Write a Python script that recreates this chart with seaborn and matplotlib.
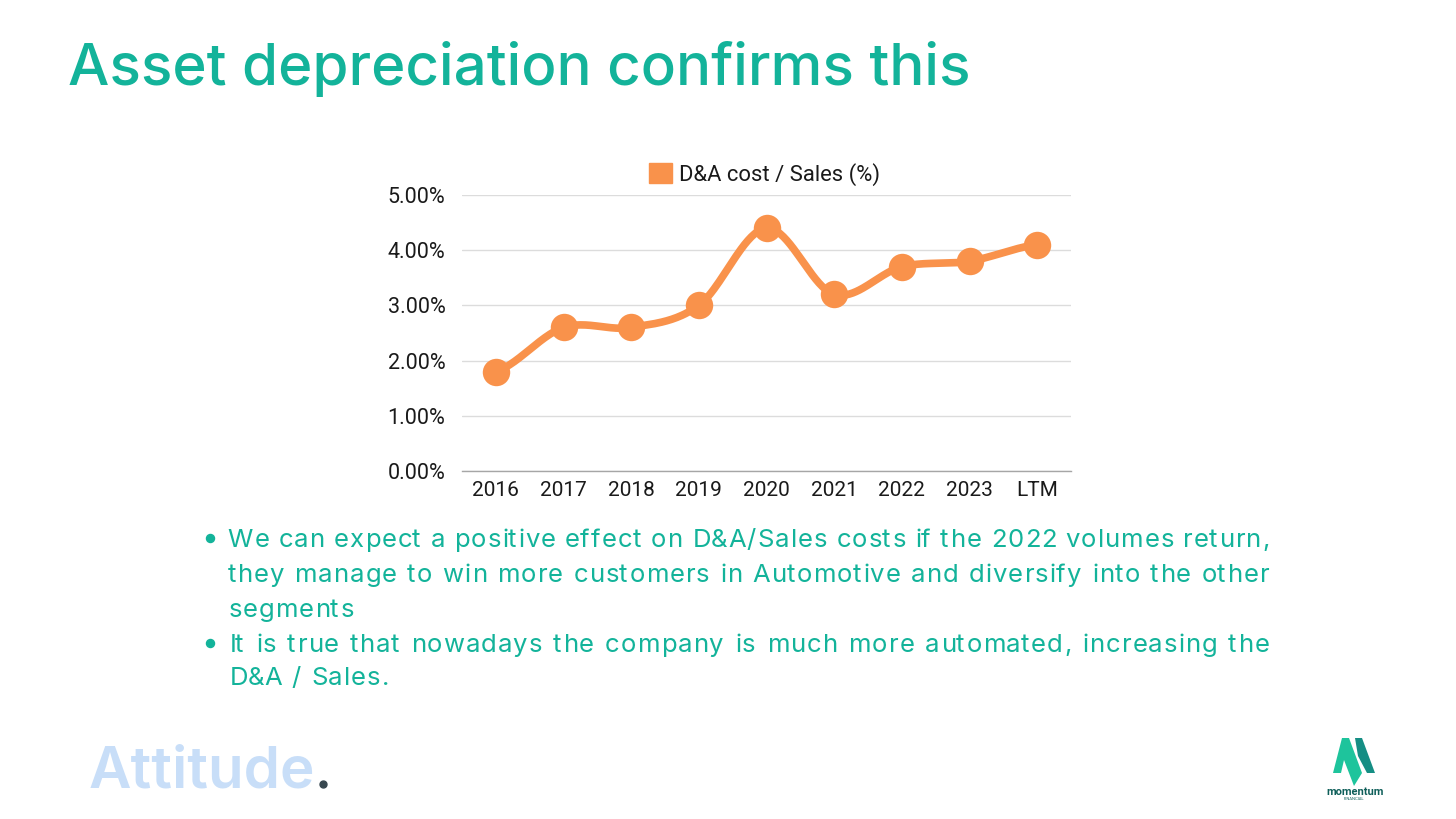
import numpy as np
import pandas as pd
import seaborn as sns
import matplotlib.pyplot as plt
from matplotlib.patches import Patch, Polygon
from matplotlib.lines import Line2D
from matplotlib.font_manager import findfont, FontProperties
from matplotlib.ft2font import FT2Font

try:
    from matplotlib.ft2font import LoadFlags
    NO_HINT = LoadFlags.NO_HINTING
except ImportError:
    from matplotlib.ft2font import LOAD_NO_HINTING as NO_HINT

# data
years = ["2016", "2017", "2018", "2019", "2020", "2021", "2022", "2023", "LTM"]
da_sales = [1.8, 2.6, 2.6, 3.0, 4.4, 3.2, 3.7, 3.8, 4.1]
y_ticks = [0, 1, 2, 3, 4, 5]
series_label = "D&A cost / Sales (%)"

title = "Asset depreciation confirms this"
# bullet text as laid out on the slide (text, justified?, starts a bullet?)
body_lines = [
    ("We can expect a positive effect on D&A/Sales costs if the 2022 volumes return,", True, True),
    ("they manage to win more customers in Automotive and diversify into the other", True, False),
    ("segments", False, False),
    ("It is true that nowadays the company is much more automated, increasing the", True, True),
    ("D&A / Sales.", False, False),
]

W, H = 1456, 819
teal = "#13B39A"
orange = "#F9924B"


def px(x, y):
    return x / W, 1 - y / H


def smooth_curve(yv, n=40):
    # cardinal spline through the points, only for drawing the smoothed line
    yv = np.asarray(yv, dtype=float)
    k = len(yv)
    m = np.zeros(k)
    m[1:-1] = (yv[2:] - yv[:-2]) / 2
    m[0] = (yv[1] - yv[0]) / 2
    m[-1] = (yv[-1] - yv[-2]) / 2
    xs, ys = [], []
    for i in range(k - 1):
        t = np.linspace(0, 1, n, endpoint=(i == k - 2))
        h00 = 2 * t**3 - 3 * t**2 + 1
        h10 = t**3 - 2 * t**2 + t
        h01 = -2 * t**3 + 3 * t**2
        h11 = t**3 - t**2
        xs.append(i + t)
        ys.append(h00 * yv[i] + h10 * m[i] + h01 * yv[i + 1] + h11 * m[i + 1])
    return np.concatenate(xs), np.concatenate(ys)


sns.set_theme(style="white")
plt.rcParams['font.family'] = ['Roboto', 'DejaVu Sans']

fig = plt.figure(figsize=(W / 100, H / 100), dpi=100)
fig.patch.set_facecolor("white")

# chart
ax = fig.add_axes([462 / W, 1 - 471 / H, (1071 - 462) / W, (471 - 195) / H])
sx, sy = smooth_curve(da_sales)
line_df = pd.DataFrame({"x": sx, "y": sy})
sns.lineplot(data=line_df, x="x", y="y", ax=ax, color=orange, lw=5.5,
             sort=False, estimator=None, solid_capstyle="round")
pts = pd.DataFrame({"x": np.arange(len(years)), "y": da_sales})
sns.scatterplot(data=pts, x="x", y="y", ax=ax, s=390, color=orange,
                edgecolor=orange, linewidth=0, zorder=4, clip_on=False)

ax.set_xlim(-0.5, len(years) - 0.5)
ax.set_ylim(0, 5)
ax.set_xticks(range(len(years)))
ax.set_xticklabels(years)
ax.set_yticks(y_ticks)
ax.set_yticklabels([f"{v:.2f}%" for v in y_ticks])
ax.set_xlabel("")
ax.set_ylabel("")
ax.yaxis.grid(True, color="#dcdcdc", lw=1)
ax.set_axisbelow(True)
for s in ["top", "right", "left"]:
    ax.spines[s].set_visible(False)
ax.spines["bottom"].set_color("#a6a6a6")
ax.spines["bottom"].set_linewidth(1)
ax.tick_params(axis="y", length=0, pad=12, labelsize=15.5, labelcolor="#1a1a1a")
ax.tick_params(axis="x", length=0, pad=7, labelsize=15, labelcolor="#1a1a1a")
ax.legend(handles=[Patch(facecolor=orange, edgecolor=orange, label=series_label)],
          loc="center", bbox_to_anchor=(0.497, 1.076), frameon=False, fontsize=15.8,
          handlelength=1.05, handleheight=1.05, handletextpad=0.3,
          labelcolor="#1a1a1a")

# title
fig.text(*px(68, 85), title, fontsize=42, color=teal, va="baseline",
         ha="left", family=["Inter", "DejaVu Sans"], fontweight="medium")

# bullet text, letter-spaced and justified like the slide
body_size = 18.5
tracking = 1.0
body_fp = FontProperties(family="Inter", size=body_size)
ft = FT2Font(findfont(body_fp))
ft.set_size(body_size, 100)


def glyph(c):
    return ft.load_char(ord(c), flags=NO_HINT)


def advance(c):
    return glyph(c).linearHoriAdvance / 65536


def word_width(w):
    return sum(advance(c) for c in w) + tracking * (len(w) - 1)


def draw_word(w, x, yb):
    for c in w:
        g = glyph(c)
        fig.text(*px(x + g.horiBearingX / 64, yb), c, color=teal, va="baseline",
                 ha="left", fontproperties=body_fp)
        x += g.linearHoriAdvance / 65536 + tracking


x_left, x_right = 227, 1268
baselines = [547, 582, 617, 652, 685]
for (line, justify, bullet), yb in zip(body_lines, baselines):
    words = line.split()
    widths = [word_width(w) for w in words]
    if justify and len(words) > 1:
        gap = (x_right - x_left - sum(widths)) / (len(words) - 1)
    else:
        gap = advance(" ") + 2 * tracking
    x = x_left
    for w, wd in zip(words, widths):
        draw_word(w, x, yb)
        x += wd + gap
    if bullet:
        fig.add_artist(Line2D([210 / W], [1 - (yb - 9.5) / H], marker="o", ms=5.8,
                              color=teal, transform=fig.transFigure))

# footer: Attitude wordmark
fig.text(*px(89, 787), "Attitude", fontsize=42, fontweight="semibold",
         color="#C8DEF8", va="baseline", family=["Inter", "DejaVu Sans"])
fig.add_artist(Line2D([323 / W], [1 - 784 / H], marker="o", ms=5,
                      color="#37474F", transform=fig.transFigure))

# footer: momentum logo
left_leg = [px(1333, 773), px(1342, 738), px(1349, 738), px(1362, 773),
            px(1354, 786), px(1344, 760), px(1341, 773)]
right_leg = [px(1355, 738), px(1362, 738), px(1375, 773), px(1367, 773), px(1358, 756)]
fig.add_artist(Polygon(left_leg, closed=True, facecolor="#1EC49C", edgecolor="none",
                       transform=fig.transFigure))
fig.add_artist(Polygon(right_leg, closed=True, facecolor="#158E84", edgecolor="none",
                       transform=fig.transFigure))
fig.text(*px(1355, 792), "momentum", fontsize=8, fontweight="bold", color="#0F5F5A",
         ha="center", va="center")
fig.text(*px(1354, 799), "FINANCIAL", fontsize=3, color="#0F5F5A",
         ha="center", va="center")

fig.savefig("out.png", dpi=100, facecolor="white")
